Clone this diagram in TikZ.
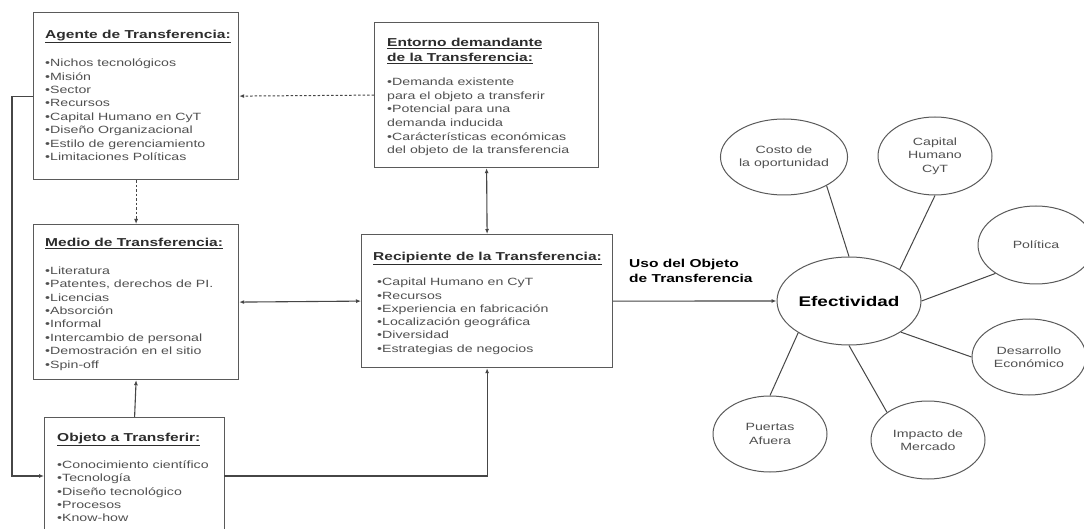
\documentclass[tikz,border=0pt]{standalone}
\usepackage{fontspec}
\setmainfont{Liberation Sans}[FakeStretch=1.35]
\usetikzlibrary{arrows.meta,shapes.geometric}
\definecolor{txt}{RGB}{80,80,80}
\definecolor{hdr}{RGB}{45,45,45}
\definecolor{brd}{RGB}{90,90,90}
\definecolor{ln}{RGB}{70,70,70}
\newcommand{\hd}[1]{\underline{#1}}
\newcommand{\bl}{\textbullet}
\newcommand{\st}{\rule{0pt}{10pt}}
\begin{document}
\begin{tikzpicture}[x=1pt,y=-1pt,
  box/.style={draw=brd, line width=1.2pt, rectangle, anchor=north west, inner sep=0pt},
  hdrtxt/.style={anchor=base west, inner sep=0pt, text=hdr, font=\bfseries\fontsize{11.5}{15}\selectfont},
  hdrtwo/.style={anchor=north west, inner sep=0pt, align=left, text=hdr, font=\bfseries\fontsize{11.5}{15}\selectfont},
  items/.style={anchor=north west, inner sep=0pt, align=left, text=txt, font=\fontsize{10.5}{13.4}\selectfont},
  bub/.style={ellipse, draw=brd, line width=1pt, inner sep=0pt, align=center, text=txt, font=\fontsize{10.5}{13.3}\selectfont},
  conn/.style={draw=ln, line width=1.1pt},
  dconn/.style={draw=ln, line width=1pt, dash pattern=on 2.5pt off 2pt},
  spoke/.style={draw=ln, line width=1pt},
  tip/.style={-{Latex[length=5pt,width=4pt]}},
  tips/.style={{Latex[length=5pt,width=4pt]}-{Latex[length=5pt,width=4pt]}}
]
\useasboundingbox (0,0) rectangle (1084,529);
\clip (0,0) rectangle (1084,529);
\fill[white] (0,0) rectangle (1084,529);

% boxes
\node[box, minimum width=205pt, minimum height=167pt] (agente) at (33,12) {};
\node[box, minimum width=205pt, minimum height=155pt] (medio) at (33,224) {};
\node[box, minimum width=180pt, minimum height=143pt] (objeto) at (44,417) {};
\node[box, minimum width=224pt, minimum height=145pt] (entorno) at (374,22) {};
\node[box, minimum width=251pt, minimum height=133pt] (recip) at (361,234) {};

% Agente
\node[hdrtxt] (agenteH) at (45,38.5) {\hd{Agente de Transferencia:}};
\node[items] (agenteI) at (45,56.5) {\st\bl Nichos tecnológicos\\\bl Misión\\\bl Sector\\\bl Recursos\\\bl Capital Humano en CyT\\\bl Diseño Organizacional\\\bl Estilo de gerenciamiento\\\bl Limitaciones Políticas};

% Medio
\node[hdrtxt] (medioH) at (45,246.5) {\hd{Medio de Transferencia:}};
\node[items] (medioI) at (45,264) {\st\bl Literatura\\\bl Patentes, derechos de PI.\\\bl Licencias\\\bl Absorción\\\bl Informal\\\bl Intercambio de personal\\\bl Demostración en el sitio\\\bl Spin-off};

% Objeto
\node[hdrtxt] (objetoH) at (57,441.5) {\hd{Objeto a Transferir:}};
\node[items] (objetoI) at (57,458) {\st\bl Conocimiento científico\\\bl Tecnología\\\bl Diseño tecnológico\\\bl Procesos\\\bl Know-how};

% Entorno
\node[hdrtwo] (entornoH) at (387,36) {\st\hd{Entorno demandante}\\\hd{de la Transferencia:}};
\node[items, font=\fontsize{10.5}{13.6}\selectfont] (entornoI) at (387,75.5) {\st\bl Demanda existente\\para el objeto a transferir\\\bl Potencial para una\\demanda inducida\\\bl Carácterísticas económicas\\del objeto de la transferencia};

% Recipiente
\node[hdrtxt] (recipH) at (373,260.5) {\hd{Recipiente de la Transferencia:}};
\node[items, font=\fontsize{10.5}{13.3}\selectfont] (recipI) at (377,275.5) {\st\bl Capital Humano en CyT\\\bl Recursos\\\bl Experiencia en fabricación\\\bl Localización geográfica\\\bl Diversidad\\\bl Estrategias de negocios};

% label
\node[hdrtwo, text=black, font=\bfseries\fontsize{11.5}{15}\selectfont] (uso) at (629,257) {\st Uso del Objeto\\de Transferencia};

% ellipses
\node[bub, minimum width=144pt, minimum height=88pt, text=black, font=\bfseries\fontsize{14}{16}\selectfont] (eff) at (849,301) {Efectividad};
\node[bub, minimum width=114pt, minimum height=76pt] (costo) at (784,157) {Costo de\\la oportunidad};
\node[bub, minimum width=114pt, minimum height=78pt] (capital) at (935,156) {Capital\\Humano\\CyT};
\node[bub, minimum width=116pt, minimum height=78pt] (politica) at (1036,245) {Política};
\node[bub, minimum width=114pt, minimum height=76pt] (desarrollo) at (1029,357) {Desarrollo\\Económico};
\node[bub, minimum width=114pt, minimum height=78pt] (impacto) at (928,440) {Impacto de\\Mercado};
\node[bub, minimum width=114pt, minimum height=76pt] (puertas) at (770,434) {Puertas\\Afuera};

% connectors
\coordinate (lcol) at (12,0);
\coordinate (objin) at (44,476);
\coordinate (objout) at (224,476);
\draw[dconn, tip] (entorno.west) -- (agente.east);
\draw[dconn, tip] (agente.south) -- (medio.north);
\draw[conn, tip] (objeto.north) -- (medio.south);
\draw[conn, tips] (medio.east) -- (recip.west);
\draw[conn, tips] (entorno.south) -- (recip.north);
\draw[conn, tip] (objout) -| (recip.south);
\draw[conn, tip] (agente.west) -- (agente.west -| lcol) |- (objin);
\draw[conn, tip] (recip.east) -- (eff.west);

\draw[spoke] (eff.90) -- (costo.-34);
\draw[spoke] (eff.32) -- (capital.-90);
\draw[spoke] (eff.0) -- (politica.-145);
\draw[spoke] (eff.-31) -- (desarrollo.180);
\draw[spoke] (eff.-90) -- (impacto.146);
\draw[spoke] (eff.-148) -- (puertas.90);
\end{tikzpicture}
\end{document}
